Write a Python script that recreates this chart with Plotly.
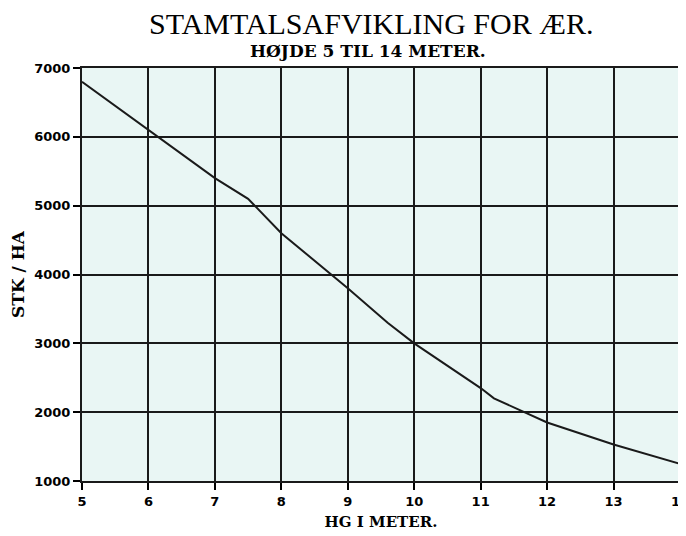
import plotly.graph_objects as go

# HG (m) vs stems per ha
hg_m = [5, 6, 7, 7.5, 8, 9, 9.6, 10, 11, 11.2, 12, 13, 14]
stk_ha = [6800, 6100, 5400, 5100, 4600, 3800, 3300, 3000, 2350, 2200, 1850, 1530, 1250]

x_ticks = [5, 6, 7, 8, 9, 10, 11, 12, 13, 14]
y_ticks = [1000, 2000, 3000, 4000, 5000, 6000, 7000]

tick_font = dict(family="DejaVu Sans", size=13, color="black", weight="bold")
serif_bold = dict(family="DejaVu Serif", color="black", weight="bold")

fig = go.Figure()
fig.add_trace(go.Scatter(
    x=hg_m, y=stk_ha, mode="lines",
    line=dict(color="#1a1a1a", width=2),
    showlegend=False,
))

fig.update_xaxes(
    range=[5, 14], tickvals=x_ticks, ticks="outside", ticklen=7, tickwidth=2,
    tickcolor="black", showgrid=True, gridcolor="#1a1a1a", gridwidth=2,
    showline=True, linecolor="#1a1a1a", linewidth=2, mirror=True,
    tickfont=tick_font, zeroline=False, automargin=False,
    ticklabeloverflow="allow",
    title=dict(text="HG I METER.", font=dict(size=15, **serif_bold), standoff=9),
)
fig.update_yaxes(
    range=[1000, 7000], tickvals=y_ticks, ticks="outside", ticklen=7, tickwidth=2,
    tickcolor="black", showgrid=True, gridcolor="#1a1a1a", gridwidth=2,
    showline=True, linecolor="#1a1a1a", linewidth=2, mirror=True,
    tickfont=tick_font, zeroline=False, automargin=False,
    ticklabeloverflow="allow",
    title=dict(text="STK / HA", font=dict(size=17, **serif_bold), standoff=12),
)

fig.add_annotation(
    text="STAMTALSAFVIKLING FOR ÆR.", xref="paper", yref="paper",
    x=0.484, y=1.0, yanchor="middle", yshift=45, showarrow=False,
    font=dict(family="Liberation Serif", size=30, color="black"),
)
fig.add_annotation(
    text="HØJDE 5 TIL 14 METER.", xref="paper", yref="paper",
    x=0.479, y=1.0, yanchor="middle", yshift=17, showarrow=False,
    font=dict(size=17, **serif_bold),
)

# page body adds 8px offset, so the figure is sized to fit the window
fig.update_layout(
    width=678, height=528,
    margin=dict(l=74, r=6, t=60, b=55, autoexpand=False),
    plot_bgcolor="#e9f6f4", paper_bgcolor="white",
)

fig.write_html("out.html")
